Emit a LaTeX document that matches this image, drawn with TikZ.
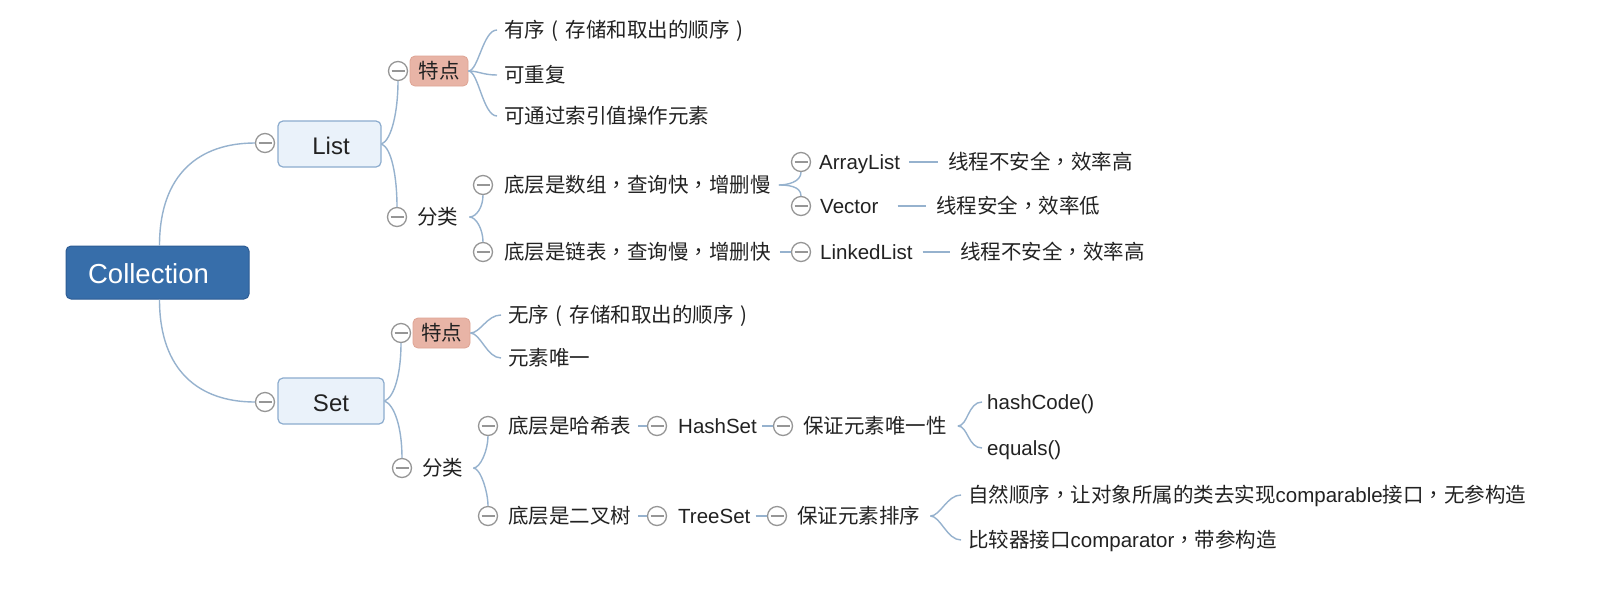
\documentclass[tikz,border=0pt]{standalone}
\usepackage{fontspec}
\setmainfont{Liberation Sans}
\newfontfamily\cjk{Noto Sans CJK SC}
\newfontfamily\cjkp{Noto Sans CJK TC}
\newcommand{\zc}{{\cjkp ，}}
\newcommand{\zl}{\makebox[1em][c]{(}}
\newcommand{\zr}{\makebox[1em][c]{)}}
\definecolor{connc}{RGB}{150,178,206}
\definecolor{circc}{RGB}{150,150,150}
\definecolor{collfill}{RGB}{55,110,170}
\definecolor{collline}{RGB}{45,92,148}
\definecolor{boxfill}{RGB}{234,242,250}
\definecolor{boxline}{RGB}{140,172,206}
\definecolor{pinkfill}{RGB}{232,180,166}
\definecolor{pinkline}{RGB}{222,164,148}
\definecolor{txt}{RGB}{34,34,34}
\begin{document}
\begin{tikzpicture}[x=1pt,y=-1pt,
  lbl/.style={anchor=west, inner sep=0pt, text height=18pt, text depth=3pt,
    font=\fontsize{20.5}{24}\selectfont, text=txt},
  cn/.style={lbl, font=\cjk\fontsize{20.5}{24}\selectfont},
  tog/.style={circle, draw=circc, line width=1.3pt, fill=white, minimum size=19pt, inner sep=0pt,
    path picture={\draw[circc, line width=1.3pt]
      ([xshift=-6.5pt]path picture bounding box.center) -- ([xshift=6.5pt]path picture bounding box.center);}},
  cl/.style={draw=connc, line width=1.4pt},
  mainbox/.style={rounded corners=5pt, inner sep=0pt, text height=24pt, text depth=3pt},
  cbox/.style={mainbox, fill=collfill, draw=collline, line width=1pt, text=white,
    font=\fontsize{27.5}{30}\selectfont},
  lbox/.style={mainbox, fill=boxfill, draw=boxline, line width=1.2pt, text=txt,
    font=\fontsize{24}{28}\selectfont},
  pbox/.style={rounded corners=5pt, inner sep=0pt, fill=pinkfill, draw=pinkline, line width=0.8pt,
    text height=18pt, text depth=3pt, text=txt, font=\cjk\fontsize{20.5}{24}\selectfont}
]
\fill[white] (0,0) rectangle (1606,590);
\useasboundingbox (0,0) rectangle (1606,590);

% main boxes
\node[cbox, minimum width=183pt, minimum height=53pt] (coll) at (157.5,272.5) {\hspace*{-18pt}Collection};
\node[lbox, minimum width=103pt, minimum height=46pt] (list) at (329.5,144) {\hspace*{3pt}List};
\node[lbox, minimum width=106pt, minimum height=46pt] (set) at (331,401) {Set};

% toggles
\node[tog] (tList) at (265,143) {};
\node[tog] (tSet) at (265,402) {};
\node[tog] (tLT) at (398,71) {};
\node[tog] (tLF) at (397,217) {};
\node[tog] (tST) at (401,333) {};
\node[tog] (tSF) at (402,468) {};
\node[tog] (tB1) at (483,185) {};
\node[tog] (tB2) at (483,252) {};
\node[tog] (tArr) at (801,162) {};
\node[tog] (tVec) at (801,206) {};
\node[tog] (tLnk) at (801,252) {};
\node[tog] (tH1) at (488,426) {};
\node[tog] (tH2) at (488,516) {};
\node[tog] (tHS) at (657,426) {};
\node[tog] (tTS) at (657,516) {};
\node[tog] (tU) at (783,426) {};
\node[tog] (tO) at (777,516) {};

% List branch
\node[pbox, minimum width=58pt, minimum height=30pt] (lt) at (439,71) {特点};
\node[cn] (a1) at (504,30) {有序\zl 存储和取出的顺序\zr};
\node[cn] (a2) at (504,75) {可重复};
\node[cn] (a3) at (504,116) {可通过索引值操作元素};
\node[cn] (lf) at (417,217) {分类};
\node[cn] (b1) at (504,185) {底层是数组\zc 查询快\zc 增删慢};
\node[cn] (b2) at (504,252) {底层是链表\zc 查询慢\zc 增删快};
\node[lbl] (al) at (819,162) {ArrayList};
\node[cn] (al2) at (948,162) {线程不安全\zc 效率高};
\node[lbl] (ve) at (820,206) {Vector};
\node[cn] (ve2) at (936,206) {线程安全\zc 效率低};
\node[lbl] (ll) at (820,252) {LinkedList};
\node[cn] (ll2) at (960,252) {线程不安全\zc 效率高};

% Set branch
\node[pbox, minimum width=57pt, minimum height=30pt] (st) at (441.5,333) {特点};
\node[cn] (s1) at (508,315) {无序\zl 存储和取出的顺序\zr};
\node[cn] (s2) at (508,358) {元素唯一};
\node[cn] (sf) at (422,468) {分类};
\node[cn] (h1) at (508,426) {底层是哈希表};
\node[lbl] (hs) at (678,426) {HashSet};
\node[cn] (hu) at (803,426) {保证元素唯一性};
\node[lbl] (hc) at (987,402) {hashCode()};
\node[lbl] (he) at (987,448) {equals()};
\node[cn] (h2) at (508,516) {底层是二叉树};
\node[lbl] (ts) at (678,516) {TreeSet};
\node[cn] (to) at (797,516) {保证元素排序};
\node[cn] (o1) at (968,495) {自然顺序\zc 让对象所属的类去实现{\rmfamily comparable}接口\zc 无参构造};
\node[cn] (o2) at (968,540) {比较器接口{\rmfamily comparator}\zc 带参构造};

% connectors: root
\draw[cl] ([xshift=2pt]coll.north) .. controls +(0,-72) and +(-55,0) .. (tList.west);
\draw[cl] ([xshift=2pt]coll.south) .. controls +(0,72) and +(-55,0) .. (tSet.west);

% List children
\draw[cl] (list.east) .. controls +(10,-4) and +(0,30) .. (tLT.south);
\draw[cl] (list.east) .. controls +(10,4) and +(0,-30) .. (tLF.north);
\draw[cl] (lt.east) .. controls +(10,0) and +(-14,0) .. ([xshift=-7pt]a1.west);
\draw[cl] (lt.east) .. controls +(10,0) and +(-14,0) .. ([xshift=-7pt]a2.west);
\draw[cl] (lt.east) .. controls +(10,0) and +(-14,0) .. ([xshift=-7pt]a3.west);
\draw[cl] ([xshift=11pt]lf.east) .. controls +(7,0) and +(0,12) .. (tB1.south);
\draw[cl] ([xshift=11pt]lf.east) .. controls +(7,0) and +(0,-12) .. (tB2.north);
\draw[cl] ([xshift=8pt]b1.east) .. controls +(8,0) and +(0,10) .. (tArr.south);
\draw[cl] ([xshift=8pt]b1.east) .. controls +(8,0) and +(0,-10) .. (tVec.north);
\draw[cl] ([xshift=9pt]b2.east) -- (tLnk.west);
\draw[cl] ([xshift=9pt]al.east) -- ([xshift=-10pt]al2.west);
\draw[cl] ([xshift=19pt]ve.east) -- ([xshift=-10pt]ve2.west);
\draw[cl] ([xshift=10pt]ll.east) -- ([xshift=-10pt]ll2.west);

% Set children
\draw[cl] (set.east) .. controls +(10,-4) and +(0,30) .. (tST.south);
\draw[cl] (set.east) .. controls +(10,4) and +(0,-30) .. (tSF.north);
\draw[cl] (st.east) .. controls +(10,0) and +(-14,0) .. ([xshift=-7pt]s1.west);
\draw[cl] (st.east) .. controls +(10,0) and +(-14,0) .. ([xshift=-7pt]s2.west);
\draw[cl] ([xshift=10pt]sf.east) .. controls +(7,0) and +(0,14) .. (tH1.south);
\draw[cl] ([xshift=10pt]sf.east) .. controls +(7,0) and +(0,-14) .. (tH2.north);
\draw[cl] ([xshift=7pt]h1.east) -- (tHS.west);
\draw[cl] ([xshift=5pt]hs.east) -- (tU.west);
\draw[cl] ([xshift=7pt]h2.east) -- (tTS.west);
\draw[cl] ([xshift=5pt]ts.east) -- (tO.west);
\draw[cl] ([xshift=11pt]hu.east) .. controls +(10,0) and +(-14,0) .. ([xshift=-5pt]hc.west);
\draw[cl] ([xshift=11pt]hu.east) .. controls +(10,0) and +(-14,0) .. ([xshift=-5pt]he.west);
\draw[cl] ([xshift=10pt]to.east) .. controls +(10,0) and +(-14,0) .. ([xshift=-7pt]o1.west);
\draw[cl] ([xshift=10pt]to.east) .. controls +(10,0) and +(-14,0) .. ([xshift=-7pt]o2.west);
\end{tikzpicture}
\end{document}
